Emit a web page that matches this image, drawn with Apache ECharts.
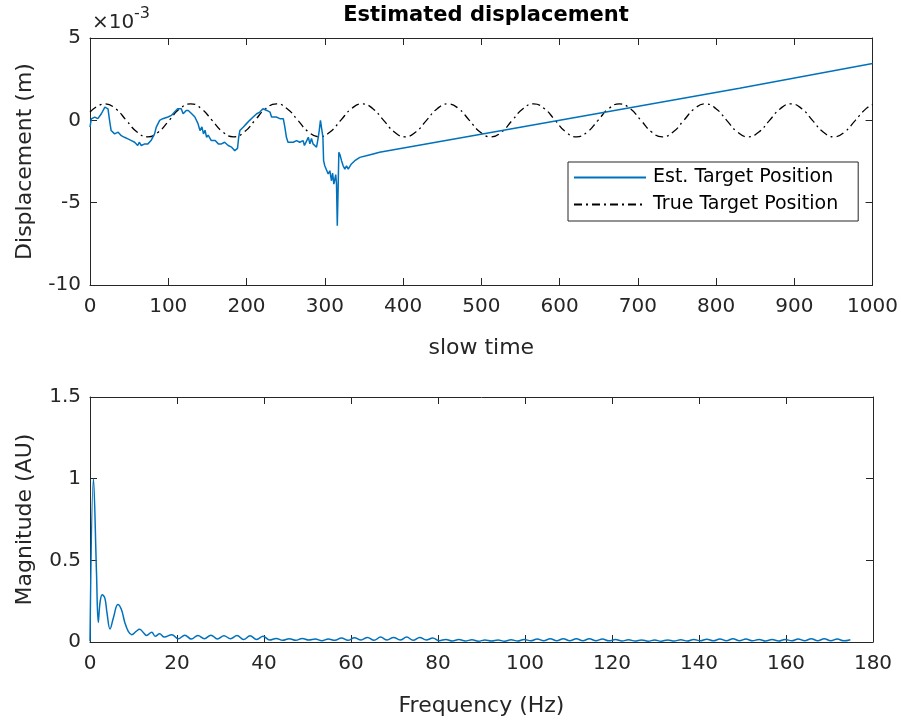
<!doctype html>
<html>
<head>
<meta charset="UTF-8">
<title>Estimated displacement</title>
<style>
	html, body { margin: 0; padding: 0; background: #fff; }
	#main { width: 901px; height: 723px; }
</style>
</head>
<body>
<div id="main"></div>
<script src="https://cdn.jsdelivr.net/npm/echarts@6/dist/echarts.min.js"></script>
<script>
// slow time / estimated displacement (units of 1e-3 m)
var estT = [0, 1.7, 6, 10, 14.5, 19, 21, 23, 25, 27, 29, 31.5, 36, 40, 44, 48.5, 53, 57, 61, 63, 65.5, 70, 74, 78, 82.5, 84.7, 89, 93, 95, 99.6,
	104, 108, 112, 116.6, 119, 123, 125.6, 130, 134, 138, 140.5, 143, 145, 147, 149, 151, 155, 160, 164, 168, 172, 176.6, 181, 185, 187, 188.5,
	190, 191.5, 196, 200, 204, 208.5, 213, 217, 221, 223.5, 226, 230, 232, 234, 238, 242.6, 245, 247, 249, 251, 253, 255, 259.7, 264, 268,
	272.4, 274, 277, 279, 281, 283, 285, 287.5, 289.5, 291.7, 293, 294.5, 296, 297.6, 298.5, 300, 302, 304.4, 306.5, 308.6, 310, 311.6, 314,
	315, 316, 317, 318, 319.5, 321.4, 323.5, 325.7, 327.8, 330, 332, 334, 338.4, 344.8, 353, 361.8, 370, 523, 830, 1000];
var estV = [-0.41, 0.09, 0.2, 0.1, 0.4, 0.8, 0.9, 0.7, 0, -0.62, -0.55, -0.82, -0.72, -0.93, -1.03, -1.13, -1.23, -1.33, -1.53, -1.33, -1.53, -1.43, -1.43, -1.23, -0.82, -0.41, 0, 0.1, 0, 0.2,
	0.3, 0.5, 0.7, 0.7, 0.4, 0.6, 0.6, 0.4, 0.2, -0.2, -0.62, -0.4, -0.82, -0.6, -1.03, -0.9, -1.23, -1.23, -1.43, -1.43, -1.33, -1.53, -1.63, -1.84, -1.94, -1.7,
	-1.03, -0.62, -0.41, -0.2, 0, 0.2, 0.4, 0.5, 0.7, 0.8, 0.6, 0.5, 0.2, 0.3, 0.2, 0.1, 0.2, 0.1, -0.41, -1.03, -1.33, -1.23, -1.33, -1.23, -1.33,
	-1.23, -1.53, -1.23, -1.03, -1.43, -1.1, -1.43, -1.33, -1.63, -1.03, -0.6, 0, -0.5, -1.0, -2.45, -2.76, -2.66, -3.26, -3.06, -3.67, -3.2, -3.87, -3.3,
	-3.87, -6.4, -4.3, -1.94, -2.1, -2.45, -2.76, -2.96, -2.76, -2.96, -2.86, -2.65, -2.45, -2.25, -2.15, -2.04, -1.94, -0.65, 1.95, 3.45];

// true target position (units of 1e-3 m)
var trueT = [0, 19, 32.7, 46.4, 60.1, 73.8, 87.5, 101.2, 114.9, 128.6, 142.3, 156, 169.7, 183.4, 197.1, 210.8, 224.5, 238.2, 251.9, 265.6,
	279.3, 293, 306.7, 320.4, 334.1, 347.8, 361.5, 375.2, 388.9, 402.6, 416.3, 430, 443.7, 457.4, 471.1, 484.8, 498.5, 512.2, 525.9, 539.6,
	553.3, 567, 580.7, 594.4, 608.1, 621.8, 635.5, 649.2, 662.9, 676.6, 690.3, 704, 717.7, 731.4, 745.1, 758.8, 772.5, 786.2, 799.9, 813.6,
	827.3, 841, 854.7, 868.4, 882.1, 895.8, 909.5, 923.2, 936.9, 950.6, 964.3, 978, 991.7, 1000];
var trueV = [0.5,
	1, 0.71, 0, -0.71, -1, -0.71, 0, 0.71,
	1, 0.71, 0, -0.71, -1, -0.71, 0, 0.71,
	1, 0.71, 0, -0.71, -1, -0.71, 0, 0.71,
	1, 0.71, 0, -0.71, -1, -0.71, 0, 0.71,
	1, 0.71, 0, -0.71, -1, -0.71, 0, 0.71,
	1, 0.71, 0, -0.71, -1, -0.71, 0, 0.71,
	1, 0.71, 0, -0.71, -1, -0.71, 0, 0.71,
	1, 0.71, 0, -0.71, -1, -0.71, 0, 0.71,
	1, 0.71, 0, -0.71, -1, -0.71, 0, 0.71,
	0.95];

// spectrum
var freqHz = [0, 0.8, 1.5, 1.9, 2.3, 2.8, 3.4, 3.9, 4.6, 5.4, 6.4, 7.2, 8.0, 8.8, 9.6, 10.6, 11.4, 12.2, 13.0, 14.2, 15.0, 16.0, 17.1, 18.8,
	20.3, 21.8, 23.3, 24.8, 26.3, 27.8, 29.3, 30.8, 32.3, 33.8, 35.3, 36.8, 38.3, 39.8, 41.3, 42.8, 44.3, 45.8, 47.3, 48.8, 50.3, 51.8,
	53.3, 54.8, 56.3, 57.8, 59.3, 60.8, 62.3, 63.8, 65.3, 66.8, 68.3, 69.8, 71.3, 72.8, 74.3, 75.8, 77.3, 78.8, 80.3, 81.8, 83.3, 84.8,
	86.3, 87.8, 89.3, 90.8, 92.3, 93.8, 95.3, 96.8, 98.3, 99.8, 101.3, 102.8, 104.3, 105.8, 107.3, 108.8, 110.3, 111.8, 113.3, 114.8,
	116.3, 117.8, 119.3, 120.8, 122.3, 123.8, 125.3, 126.8, 128.3, 129.8, 131.3, 132.8, 134.3, 135.8, 137.3, 138.8, 140.3, 141.8,
	143.3, 144.8, 146.3, 147.8, 149.3, 150.8, 152.3, 153.8, 155.3, 156.8, 158.3, 159.8, 161.3, 162.8, 164.3, 165.8, 167.3, 168.8,
	170.3, 171.8, 173.3, 174.8];
var magAU = [0.005, 1.0, 0.42, 0.12, 0.24, 0.29, 0.27, 0.18, 0.08, 0.15, 0.23, 0.2, 0.12, 0.065, 0.045, 0.065, 0.078, 0.06, 0.04, 0.06, 0.035, 0.05, 0.03, 0.045,
	0.02, 0.042, 0.018, 0.04, 0.02, 0.042, 0.018, 0.038, 0.02, 0.04, 0.015, 0.038, 0.016, 0.035, 0.012, 0.022, 0.01, 0.02, 0.01, 0.022, 0.012, 0.018,
	0.008, 0.018, 0.01, 0.025, 0.01, 0.026, 0.012, 0.028, 0.01, 0.03, 0.012, 0.028, 0.012, 0.03, 0.01, 0.028, 0.012, 0.025, 0.008, 0.016, 0.006, 0.015,
	0.006, 0.014, 0.005, 0.012, 0.006, 0.012, 0.005, 0.014, 0.006, 0.016, 0.007, 0.018, 0.008, 0.02, 0.008, 0.02, 0.008, 0.02, 0.008, 0.02,
	0.008, 0.018, 0.007, 0.015, 0.006, 0.014, 0.006, 0.013, 0.005, 0.012, 0.005, 0.013, 0.006, 0.014, 0.006, 0.016, 0.007, 0.017,
	0.007, 0.018, 0.008, 0.02, 0.008, 0.018, 0.007, 0.016, 0.006, 0.015, 0.006, 0.016, 0.007, 0.018, 0.008, 0.02, 0.008, 0.02,
	0.008, 0.018, 0.007, 0.014];

var FONT = '"DejaVu Sans", Verdana, sans-serif';
var AXC = '#262626';

function pairs(a, b) {
	return a.map(function (x, i) { return [x, b[i]]; });
}

// one axis, with the box look of the original (inward ticks on every side)
function axis(grid, pos, min, max, step, extra) {
	var a = {
		type: 'value', gridIndex: grid, position: pos, min: min, max: max, interval: step,
		splitLine: { show: false },
		axisLine: { show: true, onZero: false, lineStyle: { color: AXC, width: 1 } },
		axisTick: { show: true, inside: true, length: 7, lineStyle: { color: AXC, width: 1 } },
		axisLabel: { show: false },
		nameTextStyle: { color: AXC, fontFamily: FONT, fontSize: 22 }
	};
	for (var k in extra) a[k] = extra[k];
	return a;
}
function labels(margin) {
	return {
		show: true, color: AXC, fontFamily: FONT, fontSize: 20, margin: margin,
		formatter: function (v) { return String(v); }
	};
}

var myChart = echarts.init(document.getElementById('main'), null, { renderer: 'canvas' });
var option = {
	animation: false,
	backgroundColor: '#fff',
	title: {
		text: 'Estimated displacement',
		left: 481, top: 0, textAlign: 'center',
		textStyle: { color: '#000', fontFamily: FONT, fontSize: 21, fontWeight: 'bold' }
	},
	graphic: [
		{ type: 'text', left: 92, top: 13, style: { text: '×10', fill: AXC, font: '20px ' + FONT } },
		{ type: 'text', left: 134, top: 6, style: { text: '-3', fill: AXC, font: '16px ' + FONT } }
	],
	grid: [
		{ left: 90, right: 28, top: 38, height: 247 },
		{ left: 90, right: 28, top: 397, height: 245 }
	],
	xAxis: [
		axis(0, 'bottom', 0, 1000, 100, { axisLabel: labels(12), name: 'slow time', nameLocation: 'middle', nameGap: 52 }),
		axis(0, 'top', 0, 1000, 100, {}),
		axis(1, 'bottom', 0, 180, 20, { axisLabel: labels(12), name: 'Frequency (Hz)', nameLocation: 'middle', nameGap: 53 }),
		axis(1, 'top', 0, 180, 20, {})
	],
	yAxis: [
		axis(0, 'left', -10, 5, 5, { axisLabel: labels(9), name: 'Displacement (m)', nameLocation: 'middle', nameGap: 54 }),
		axis(0, 'right', -10, 5, 5, {}),
		axis(1, 'left', 0, 1.5, 0.5, { axisLabel: labels(9), name: 'Magnitude (AU)', nameLocation: 'middle', nameGap: 54 }),
		axis(1, 'right', 0, 1.5, 0.5, {})
	],
	legend: {
		orient: 'vertical',
		left: 568, top: 162,
		itemWidth: 72, itemHeight: 14, itemGap: 8,
		padding: [6, 20, 7, 5],
		borderColor: AXC, borderWidth: 1, backgroundColor: '#fff',
		itemStyle: { opacity: 0 },
		textStyle: { color: '#000', fontFamily: FONT, fontSize: 19, padding: [0, 0, 0, 2] },
		data: ['Est. Target Position', 'True Target Position']
	},
	series: [
		{
			name: 'Est. Target Position', type: 'line', xAxisIndex: 0, yAxisIndex: 0,
			data: pairs(estT, estV), symbol: 'none', showSymbol: false,
			itemStyle: { color: '#0072BD' },
			lineStyle: { color: '#0072BD', width: 1.5 }, z: 3
		},
		{
			name: 'True Target Position', type: 'line', xAxisIndex: 0, yAxisIndex: 0,
			data: pairs(trueT, trueV), symbol: 'none', showSymbol: false, smooth: 0.5,
			itemStyle: { color: '#000' },
			lineStyle: { color: '#000', width: 1.3, type: [8, 4, 2, 4] }, z: 2
		},
		{
			name: 'spectrum', type: 'line', xAxisIndex: 2, yAxisIndex: 2,
			data: pairs(freqHz, magAU), symbol: 'none', showSymbol: false, smooth: 0.4,
			lineStyle: { color: '#0072BD', width: 1.5 }
		}
	]
};
myChart.setOption(option, true);
</script>
</body>
</html>
